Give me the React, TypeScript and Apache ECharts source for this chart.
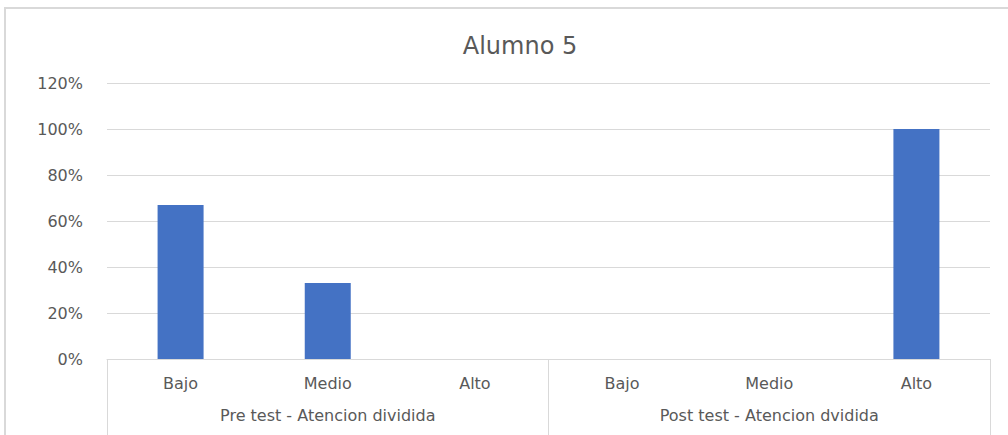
import React, { useEffect, useRef } from "react";
import * as echarts from "echarts";

const levels = ["Bajo", "Medio", "Alto", "Bajo", "Medio", "Alto"];
const groups = ["Pre test - Atencion dividida", "Post test - Atencion dvidida"];
const values = [0.67, 0.33, 0, 0, 0, 1.0];
const yTicks = [0, 0.2, 0.4, 0.6, 0.8, 1.0, 1.2];

export default function App() {
  const ref = useRef<HTMLDivElement>(null);
  useEffect(() => {
    const chart = echarts.init(ref.current!, null, { renderer: "svg" });
    const font = "DejaVu Sans, sans-serif";
    chart.setOption({
      animation: false,
      backgroundColor: "#ffffff",
      title: {
        text: "Alumno 5",
        left: 515,
        top: 29,
        textAlign: "center",
        textStyle: { fontFamily: font, fontSize: 24, fontWeight: "normal", color: "#595959" },
      },
      graphic: [
        {
          type: "polyline",
          shape: { points: [[5, 440], [5, 8], [1010, 8]] },
          style: { stroke: "#d9d9d9", lineWidth: 2, fill: "none" },
          z: 100,
        },
      ],
      grid: { left: 107, right: 18, top: 83, bottom: 76 },
      xAxis: [
        {
          type: "category",
          data: levels,
          position: "bottom",
          axisLine: { show: true, lineStyle: { color: "#d9d9d9", width: 1 } },
          axisTick: { show: false },
          axisLabel: { margin: 16, fontFamily: font, fontSize: 16, color: "#595959", interval: 0 },
        },
        {
          type: "category",
          data: groups,
          position: "bottom",
          offset: 0,
          axisLine: { show: false },
          axisTick: { show: true, length: 80, lineStyle: { color: "#d9d9d9", width: 1 } },
          axisLabel: { margin: 48, fontFamily: font, fontSize: 16, color: "#595959", interval: 0 },
        },
      ],
      yAxis: {
        type: "value",
        min: 0,
        max: 1.2,
        interval: 0.2,
        axisLine: { show: false },
        axisTick: { show: false },
        splitLine: { lineStyle: { color: "#d9d9d9", width: 1 } },
        axisLabel: {
          margin: 24,
          fontFamily: font,
          fontSize: 16,
          color: "#595959",
          formatter: (v: number) => {
            const match = yTicks.find((t) => Math.abs(t - v) < 1e-9);
            return Math.round((match ?? v) * 100) + "%";
          },
        },
      },
      series: [
        {
          type: "bar",
          xAxisIndex: 0,
          data: values,
          barWidth: 46,
          itemStyle: { color: "#4472c4" },
        },
      ],
    });
    return () => chart.dispose();
  }, []);
  return (
    <div
      ref={ref}
      style={{ position: "fixed", left: 0, top: 0, width: 1008, height: 435 }}
    />
  );
}
